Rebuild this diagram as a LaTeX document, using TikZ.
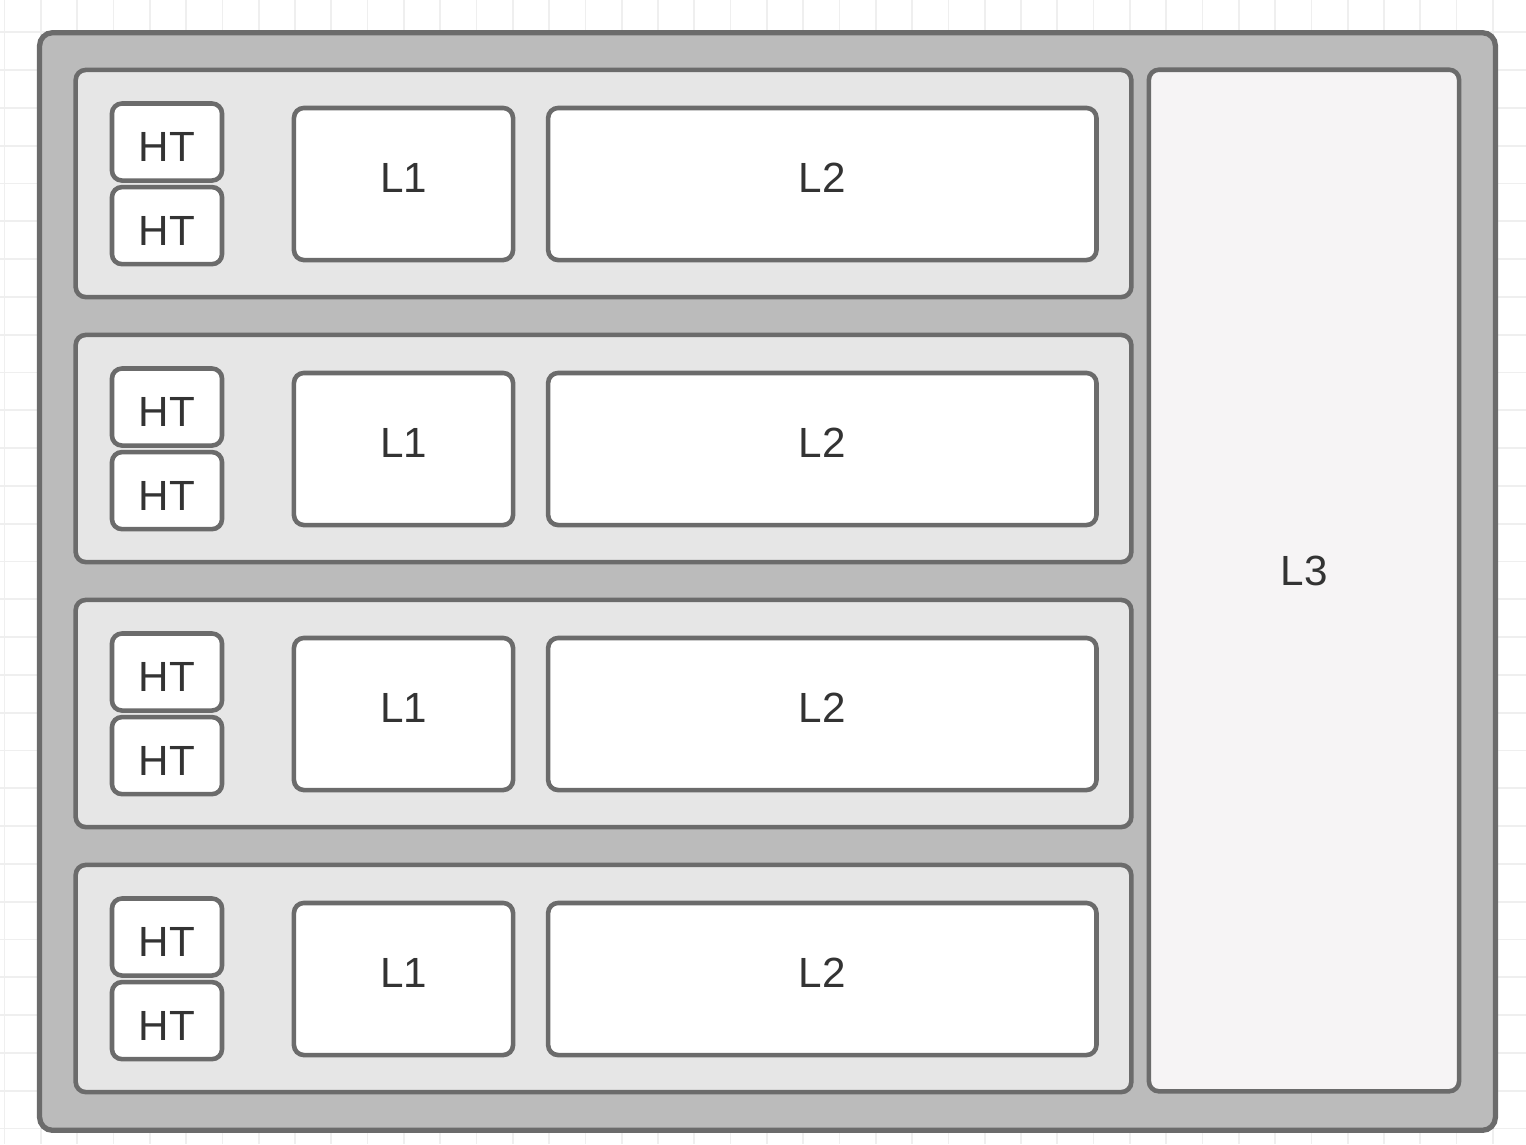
\documentclass[tikz,border=0pt]{standalone}
\usepackage{fontspec}
\setmainfont{Liberation Sans}
\usepackage{xcolor}
\usetikzlibrary{positioning}
\definecolor{edgegray}{HTML}{6B6B6B}
\definecolor{chipgray}{HTML}{BBBBBB}
\definecolor{coregray}{HTML}{E6E6E6}
\definecolor{cachegray}{HTML}{F6F4F5}
\definecolor{textgray}{HTML}{333333}
\definecolor{gridgray}{HTML}{EFEFEF}
\begin{document}
\begin{tikzpicture}[x=0.01cm, y=-0.01cm, node distance=0.02cm]
    \tikzstyle{box} = [draw=edgegray, line width=1.3pt, rounded corners=0.1cm, fill=white, text=textgray, font=\fontsize{12}{14}\selectfont, inner sep=0pt]
    \tikzstyle{chip} = [box, fill=chipgray, rounded corners=0.13cm, line width=1.5pt]
    \tikzstyle{core} = [box, fill=coregray, minimum width=10.55cm, minimum height=2.27cm]
    \tikzstyle{ht} = [box, minimum width=1.10cm, minimum height=0.77cm, text height=11.2pt, text depth=0pt]
    \tikzstyle{cache} = [box, minimum height=1.52cm, text height=8.6pt, text depth=3.7pt]
    \useasboundingbox (0,0) rectangle (1526,1144);

    % background grid
    \foreach \x in {0,...,41}
        \draw [gridgray, line width=0.5pt] (4.6+36.3*\x,0) -- (4.6+36.3*\x,1144);
    \foreach \y in {0,...,29}
        \draw [gridgray, line width=0.5pt] (0,32.3+37.8*\y) -- (1526,32.3+37.8*\y);

    \node [chip, minimum width=14.55cm, minimum height=10.97cm] (chip) at (767.5,581.5) {};
    \node [box, fill=cachegray, minimum width=3.10cm, minimum height=10.21cm, text height=8.6pt, text depth=5.7pt] (L3) at (1304,580.5) {L3};

    \foreach \r [count=\i] in {0,...,3} {
        \node [core] (core\i) at (603.5,183.5+265*\r) {};
        \node [ht] (HTa\i) at (167,142+265*\r) {HT};
        \node [ht, below = of HTa\i] (HTb\i) {HT};
        \node [cache, minimum width=2.19cm] (L1\i) at (403.5,184+265*\r) {L1};
        \node [cache, minimum width=5.48cm, right = 0.305cm of L1\i] (L2\i) {L2};
    }
\end{tikzpicture}
\end{document}
